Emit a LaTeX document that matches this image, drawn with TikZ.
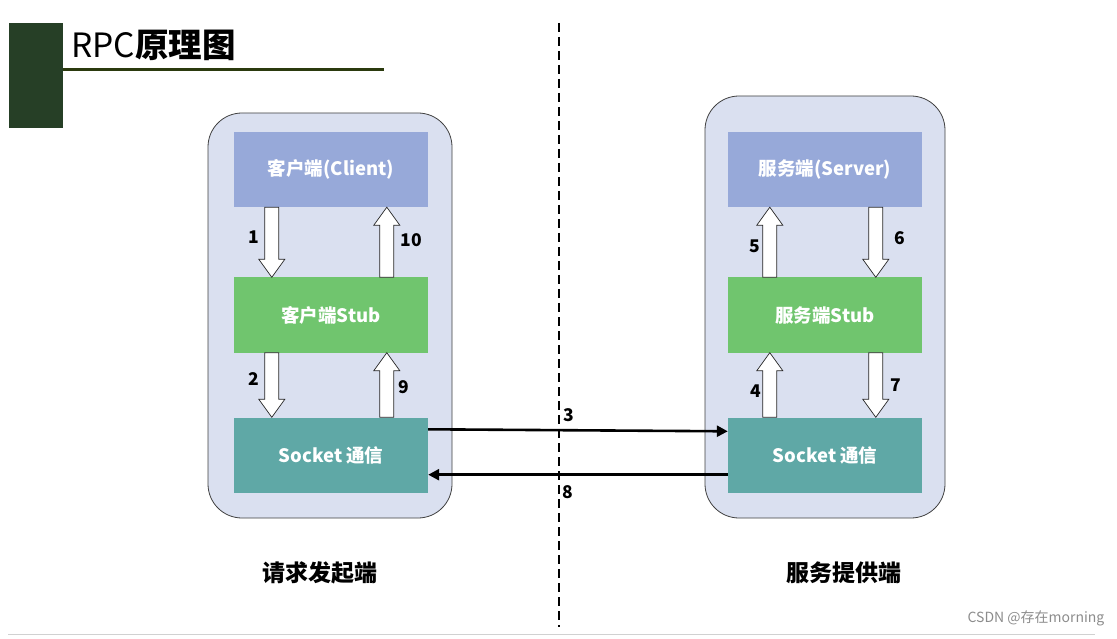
\documentclass[tikz,border=0pt]{standalone}
\usepackage{fontspec}
\setmainfont{Noto Sans CJK SC}
\usetikzlibrary{calc,arrows.meta}
\definecolor{darkgreen}{HTML}{263F26}
\definecolor{lineolive}{HTML}{2B3A0E}
\definecolor{panelfill}{HTML}{DAE0F0}
\definecolor{clientfill}{HTML}{97A9D9}
\definecolor{stubfill}{HTML}{70C56E}
\definecolor{sockfill}{HTML}{5FA8A6}
\definecolor{wmgray}{HTML}{8C8C8C}
\tikzset{
  panel/.style={draw=black!75, line width=0.8pt, fill=panelfill, rounded corners=34pt},
  layerbox/.style={draw=none, minimum width=194pt, minimum height=75pt, text=white, font=\bfseries\fontsize{18.5}{20}\selectfont, inner sep=0pt},
  hollow/.style={draw=black!85, fill=white, line width=0.7pt, line join=miter},
  numlabel/.style={font=\bfseries\fontsize{17.5}{20}\selectfont, inner sep=0pt},
  msg/.style={line width=2.6pt, -{Triangle[length=11pt,width=11pt]}},
  sidelabel/.style={font=\bfseries\fontsize{23}{26}\selectfont, inner sep=0pt}
}
% hollow arrow downwards / upwards from (#1) to (#2) (vertical)
\newcommand{\hdown}[2]{\draw[hollow] let \p1=(#1), \p2=(#2) in
  (\x1-7pt,\y1) -- (\x1+7pt,\y1) -- (\x1+7pt,\y2+18pt) -- (\x1+13pt,\y2+18pt) -- (\x1,\y2) -- (\x1-13pt,\y2+18pt) -- (\x1-7pt,\y2+18pt) -- cycle;}
\newcommand{\hup}[2]{\draw[hollow] let \p1=(#1), \p2=(#2) in
  (\x1-7pt,\y1) -- (\x1+7pt,\y1) -- (\x1+7pt,\y2-18pt) -- (\x1+13pt,\y2-18pt) -- (\x1,\y2) -- (\x1-13pt,\y2-18pt) -- (\x1-7pt,\y2-18pt) -- cycle;}
\begin{document}
\begin{tikzpicture}[x=1pt,y=-1pt]
\useasboundingbox (0,0) rectangle (1117,639);
% header
\fill[darkgreen] (9,23) rectangle (63,128);
\draw[lineolive, line width=3pt] (63,70) -- (384,70);
\node[anchor=base west, inner sep=0pt, font=\fontsize{33.5}{38}\selectfont] (title) at (71,58) {RPC\textbf{原理图}};
% divider
\draw[black, line width=1.5pt, dash pattern=on 9pt off 5pt] (559,23) -- (559,627);
% footer line
\draw[black!18, line width=1pt] (8,634) -- (1095,634);
% panels
\draw[panel] (208,113) rectangle (452,518);
\draw[panel] (705,96) rectangle (945,518);
% left layers
\node[layerbox, fill=clientfill] (client) at (331,169.5) {客户端(Client)};
\node[layerbox, fill=stubfill] (cstub) at (331,315) {客户端Stub};
\node[layerbox, fill=sockfill] (csock) at (331,455) {Socket 通信};
% right layers
\node[layerbox, fill=clientfill] (server) at (825,169.5) {服务端(Server)};
\node[layerbox, fill=stubfill] (sstub) at (825,315) {服务端Stub};
\node[layerbox, fill=sockfill] (ssock) at (825,455) {Socket 通信};
% coordinates for hollow arrows
\coordinate (a1s) at ($(client.south west)+(38,0)$);
\coordinate (a1e) at ($(cstub.north west)+(38,0)$);
\coordinate (a10s) at ($(cstub.north west)+(153,0)$);
\coordinate (a10e) at ($(client.south west)+(153,0)$);
\coordinate (a2s) at ($(cstub.south west)+(38,0)$);
\coordinate (a2e) at ($(csock.north west)+(38,0)$);
\coordinate (a9s) at ($(csock.north west)+(153,0)$);
\coordinate (a9e) at ($(cstub.south west)+(153,0)$);
\coordinate (a5s) at ($(sstub.north west)+(42,0)$);
\coordinate (a5e) at ($(server.south west)+(42,0)$);
\coordinate (a6s) at ($(server.south west)+(148,0)$);
\coordinate (a6e) at ($(sstub.north west)+(148,0)$);
\coordinate (a4s) at ($(ssock.north west)+(42,0)$);
\coordinate (a4e) at ($(sstub.south west)+(42,0)$);
\coordinate (a7s) at ($(sstub.south west)+(148,0)$);
\coordinate (a7e) at ($(ssock.north west)+(148,0)$);
\hdown{a1s}{a1e}
\hup{a10s}{a10e}
\hdown{a2s}{a2e}
\hup{a9s}{a9e}
\hup{a5s}{a5e}
\hdown{a6s}{a6e}
\hup{a4s}{a4e}
\hdown{a7s}{a7e}
% number labels
\node[numlabel] (l1) at (254,237) {1};
\node[numlabel] (l10) at (411,240) {10};
\node[numlabel] (l2) at (254,379) {2};
\node[numlabel] (l9) at (404,387) {9};
\node[numlabel] (l5) at (755,246) {5};
\node[numlabel] (l6) at (900,238) {6};
\node[numlabel] (l4) at (756,391) {4};
\node[numlabel] (l7) at (896,385) {7};
% messages across network
\draw[msg] ($(csock.north east)+(0,12)$) -- ($(ssock.north west)+(0,14)$);
\draw[msg] ($(ssock.south west)+(0,-18)$) -- ($(csock.south east)+(0,-18)$);
\node[numlabel] (l3) at (569,415) {3};
\node[numlabel] (l8) at (568,492) {8};
% side labels
\node[sidelabel] (left) at (320,573) {请求发起端};
\node[sidelabel] (right) at (844,573) {服务提供端};
% watermark
\node[text=wmgray, font=\fontsize{14}{17}\selectfont, inner sep=0pt] (wm) at (1036,618) {CSDN @存在morning};
\end{tikzpicture}
\end{document}
